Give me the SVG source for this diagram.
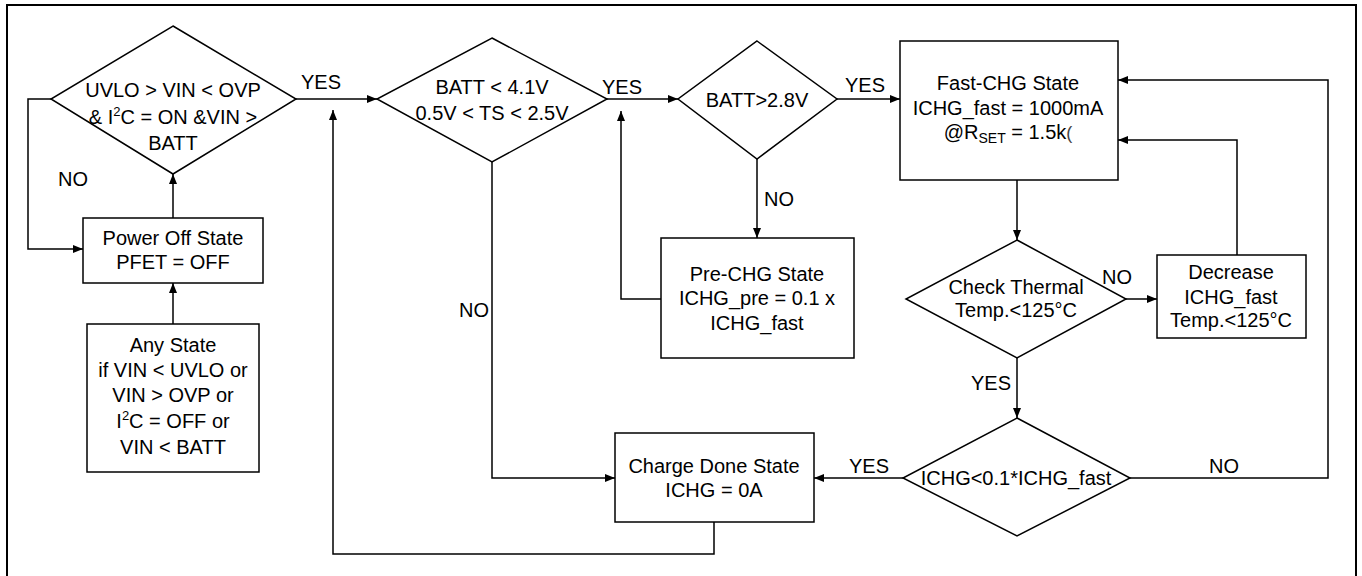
<svg xmlns="http://www.w3.org/2000/svg" width="1362" height="576" viewBox="0 0 1362 576">
<style>
.box{fill:#fff;stroke:#000;stroke-width:1.5}
.wire{fill:none;stroke:#000;stroke-width:1.5}
.frame{fill:none;stroke:#000;stroke-width:2}
text{font-family:"Liberation Sans",Arial,sans-serif;font-size:20px;fill:#000;text-anchor:middle}
.sup{font-size:13px}
.sub{font-size:14px}
</style>
<defs>
<marker id="ah" viewBox="0 0 10 10" refX="10" refY="5" markerWidth="10" markerHeight="10" markerUnits="userSpaceOnUse" orient="auto">
<path d="M0,1 L10,5 L0,9 z" fill="#000"/>
</marker>
</defs>
<rect width="1362" height="576" fill="#fff"/>
<path class="frame" d="M7,580 V5 H1356 V580"/>

<g id="connectors">
<path class="wire" d="M296,99 H377" marker-end="url(#ah)"/>
<path class="wire" d="M607,99 H678" marker-end="url(#ah)"/>
<path class="wire" d="M837,99 H900" marker-end="url(#ah)"/>
<path class="wire" d="M173,218 V174" marker-end="url(#ah)"/>
<path class="wire" d="M173,324 V283" marker-end="url(#ah)"/>
<path class="wire" d="M51,99 H28 V249 H83" marker-end="url(#ah)"/>
<path class="wire" d="M714,522 V554 H333 V110" marker-end="url(#ah)"/>
<path class="wire" d="M492,162 V478 H615" marker-end="url(#ah)"/>
<path class="wire" d="M757,159 V238" marker-end="url(#ah)"/>
<path class="wire" d="M661,299 H621 V111" marker-end="url(#ah)"/>
<path class="wire" d="M1017,180 V240" marker-end="url(#ah)"/>
<path class="wire" d="M1126,299 H1157" marker-end="url(#ah)"/>
<path class="wire" d="M1237,255 V140 H1118" marker-end="url(#ah)"/>
<path class="wire" d="M1017,358 V418" marker-end="url(#ah)"/>
<path class="wire" d="M903,478 H814" marker-end="url(#ah)"/>
<path class="wire" d="M1130,478 H1328 V80 H1118" marker-end="url(#ah)"/>
<text x="321" y="89">YES</text>
<text x="73" y="186">NO</text>
<text x="622" y="94">YES</text>
<text x="865" y="92">YES</text>
<text x="779" y="206">NO</text>
<text x="474" y="317">NO</text>
<text x="1117" y="284">NO</text>
<text x="991" y="390">YES</text>
<text x="869" y="473">YES</text>
<text x="1224" y="473">NO</text>
</g>

<g id="d-input">
<polygon class="box" points="173,26 296,99 173,174 51,99"/>
<text x="173" y="97">UVLO &gt; VIN &lt; OVP</text>
<text x="173" y="124">&amp; I<tspan class="sup" dy="-8">2</tspan><tspan dy="8">C = ON &amp;VIN &gt;</tspan></text>
<text x="173" y="150">BATT</text>
</g>

<g id="power-off">
<rect class="box" x="83" y="218" width="180" height="65"/>
<text x="173" y="245">Power Off State</text>
<text x="173" y="269">PFET = OFF</text>
</g>

<g id="any-state">
<rect class="box" x="87" y="324" width="172" height="148"/>
<text x="173" y="352">Any State</text>
<text x="173" y="377">if VIN &lt; UVLO or</text>
<text x="173" y="402">VIN &gt; OVP or</text>
<text x="173" y="428">I<tspan class="sup" dy="-8">2</tspan><tspan dy="8">C = OFF or</tspan></text>
<text x="173" y="454">VIN &lt; BATT</text>
</g>

<g id="d-batt-ts">
<polygon class="box" points="492,38 607,99 492,162 377,99"/>
<text x="492" y="94">BATT &lt; 4.1V</text>
<text x="492" y="120">0.5V &lt; TS &lt; 2.5V</text>
</g>

<g id="d-batt28">
<polygon class="box" points="757,41 837,99 757,159 678,99"/>
<text x="757" y="107">BATT&gt;2.8V</text>
</g>

<g id="pre-chg">
<rect class="box" x="661" y="238" width="193" height="120"/>
<text x="757" y="281">Pre-CHG State</text>
<text x="757" y="305">ICHG_pre = 0.1 x</text>
<text x="757" y="330">ICHG_fast</text>
</g>

<g id="fast-chg">
<rect class="box" x="900" y="41" width="218" height="139"/>
<text x="1008" y="90">Fast-CHG State</text>
<text x="1008" y="115">ICHG_fast = 1000mA</text>
<text x="1008" y="139">@R<tspan class="sub" dy="4">SET</tspan><tspan dy="-4"> = 1.5k</tspan><tspan font-size="18" fill="#444">(</tspan></text>
</g>

<g id="d-thermal">
<polygon class="box" points="1017,240 1126,299 1017,358 906,299"/>
<text x="1016" y="294">Check Thermal</text>
<text x="1016" y="317">Temp.&lt;125°C</text>
</g>

<g id="decrease">
<rect class="box" x="1157" y="255" width="149" height="83"/>
<text x="1231" y="279">Decrease</text>
<text x="1231" y="304">ICHG_fast</text>
<text x="1231" y="327">Temp.&lt;125°C</text>
</g>

<g id="d-ichg">
<polygon class="box" points="1017,418 1130,478 1017,536 903,478"/>
<text x="1016" y="485">ICHG&lt;0.1*ICHG_fast</text>
</g>

<g id="charge-done">
<rect class="box" x="615" y="433" width="199" height="89"/>
<text x="714" y="473" font-size="18">Charge Done State</text>
<text x="714" y="497" font-size="18">ICHG = 0A</text>
</g>
</svg>
